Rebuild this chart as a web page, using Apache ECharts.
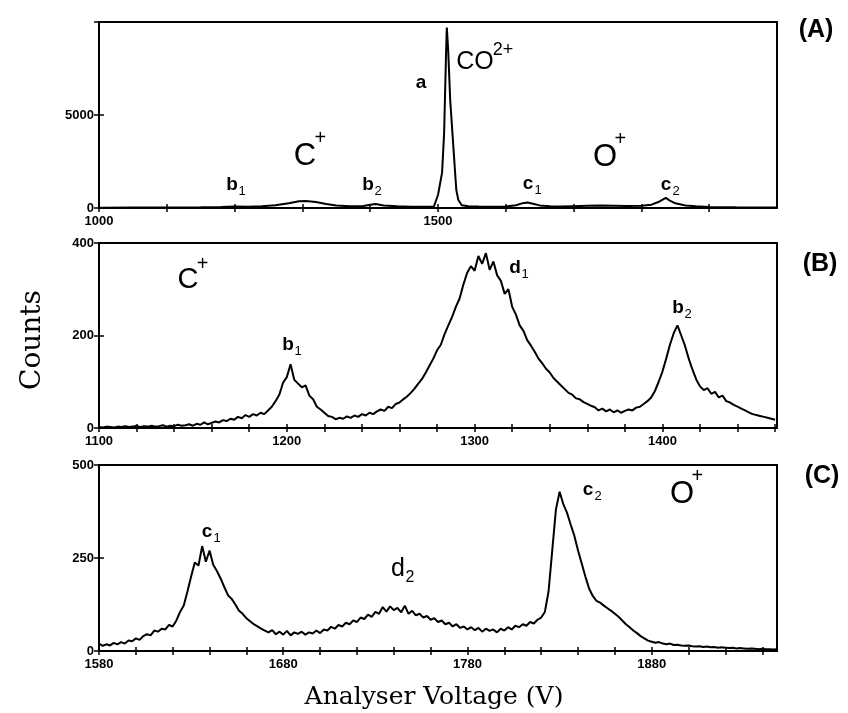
<!DOCTYPE html>
<html>
<head>
<meta charset="utf-8">
<title>CO spectra</title>
<script src="https://cdn.jsdelivr.net/npm/echarts@6/dist/echarts.min.js"></script>
<style>
  html, body { margin: 0; padding: 0; background: #fff; }
  #chart { width: 848px; height: 713px; }
</style>
</head>
<body>
<div id="chart"></div>
<script>
// (A) full scan, 1000-2000 V (sampled where the trace bends)
var aVolt = [1000,1050,1100,1150,1180,1200,1220,1240,1260,1280,
             1295,1305,1320,1335,1350,1370,1390,1400,1408,1420,
             1440,1460,1480,1494,1500,1504,1506,1509,1512,1513,
             1515,1518,1523,1527,1530,1535,1545,1560,1580,1600,
             1615,1625,1632,1640,1650,1665,1680,1700,1720,1740,
             1760,1780,1800,1815,1825,1832,1836,1842,1850,1865,
             1880,1900,1940,2000];
var aCounts = [20,25,30,40,60,80,70,90,150,260,
               360,380,320,220,140,100,110,180,220,140,
               90,70,70,80,700,1500,1900,4000,8500,9700,
               8500,5800,3100,970,430,150,100,80,70,80,
               150,260,300,230,140,90,80,100,120,130,
               120,110,120,180,320,460,540,400,250,140,
               90,60,40,30];

// (B) C+ region, 1100-1460 V, every 2 V
var bStart = 1100, bStep = 2;
var bCounts = [
  2,1,3,2,1,3,2,4,2,3,            // 1100
  5,2,4,3,5,3,4,6,3,5,            // 1120
  4,7,5,6,8,5,9,7,12,8,           // 1140
  11,14,12,17,15,20,18,24,21,28,  // 1160
  24,30,27,33,30,38,46,58,72,98,  // 1180
  110,138,104,96,88,92,70,62,46,40,   // 1200
  33,26,24,19,22,20,25,22,27,24,      // 1220
  30,27,33,30,36,40,37,46,43,52,      // 1240
  55,62,68,76,85,96,106,120,135,150,  // 1260
  168,180,203,222,240,262,280,310,335,350, // 1280
  340,372,355,378,342,360,330,318,290,300, // 1300
  262,245,222,210,190,178,165,150,140,128, // 1320
  120,108,100,92,84,76,72,64,62,56,   // 1340
  52,48,45,38,42,36,40,34,38,33,      // 1360
  37,40,38,44,46,52,58,66,80,100,     // 1380
  122,150,180,205,222,200,178,150,126,105, // 1400
  90,82,86,74,78,66,70,58,55,50,      // 1420
  46,42,38,34,30,28,26,24,22,20,      // 1440
  18                                  // 1460
];

// (C) O+ region, 1580-1948 V, every 2 V
var cStart = 1580, cStep = 2;
var cCounts = [
  20,14,18,15,22,18,24,20,28,26,      // 1580
  34,30,40,45,42,55,52,60,58,70,      // 1600
  66,82,105,122,160,200,238,230,282,240, // 1620
  270,232,215,195,172,150,140,125,108,100, // 1640
  88,80,72,66,60,55,50,56,45,52,      // 1660
  44,54,42,50,46,52,44,50,47,55,      // 1680
  48,58,55,65,60,70,66,76,72,82,      // 1700
  78,90,86,98,92,105,100,118,106,120, // 1720
  110,116,104,122,100,108,96,100,90,94, // 1740
  84,88,78,82,72,76,66,72,62,66,      // 1760
  58,64,56,62,52,60,54,58,50,60,      // 1780
  55,64,58,68,64,72,68,78,74,84,      // 1800
  90,105,160,270,380,428,395,372,340,310, // 1820
  270,235,200,168,148,135,130,122,115,108, // 1840
  100,92,82,72,64,55,48,40,34,28,     // 1860
  25,22,24,20,18,20,16,17,15,14,      // 1880
  15,13,12,13,11,12,10,11,9,10,       // 1900
  9,8,9,7,8,7,6,7,6,5,                // 1920
  6,5,5,4,5                           // 1940
];

function pairs(xs, ys) {
  return ys.map(function (y, i) { return [xs[i], y]; });
}
function stepped(start, step, ys) {
  return ys.map(function (y, i) { return [start + step * i, y]; });
}

var tickFont = { color: '#000', fontFamily: 'Liberation Sans', fontWeight: 'bold', fontSize: 13 };

// ticks cross the axis line: one axis with outside ticks, a twin with inside ticks
function xAxes(grid, min, max, interval, labelEvery) {
  var main = {
    type: 'value', gridIndex: grid, position: 'bottom', min: min, max: max, interval: interval,
    axisLine: { show: true, onZero: false, lineStyle: { color: '#000', width: 2 } },
    axisTick: { show: true, inside: false, length: 4, lineStyle: { color: '#000', width: 1.5 } },
    axisLabel: Object.assign({ margin: 7, showMaxLabel: false,
      formatter: function (v) { return (v - min) % labelEvery === 0 ? String(v) : ''; } }, tickFont),
    splitLine: { show: false }
  };
  var inner = {
    type: 'value', gridIndex: grid, position: 'bottom', offset: 0, min: min, max: max, interval: interval,
    axisLine: { show: false, onZero: false },
    axisTick: { show: true, inside: true, length: 4, lineStyle: { color: '#000', width: 1.5 } },
    axisLabel: { show: false }, splitLine: { show: false }
  };
  return [main, inner];
}

function yAxes(grid, max, interval, hideTop) {
  var main = {
    type: 'value', gridIndex: grid, position: 'left', min: 0, max: max, interval: interval,
    axisLine: { show: true, onZero: false, lineStyle: { color: '#000', width: 2 } },
    axisTick: { show: true, inside: false, length: 5, lineStyle: { color: '#000', width: 1.5 } },
    axisLabel: Object.assign({ margin: 5,
      formatter: function (v) { return (hideTop && v === max) ? '' : String(v); } }, tickFont),
    splitLine: { show: false }
  };
  var inner = {
    type: 'value', gridIndex: grid, position: 'left', offset: 0, min: 0, max: max, interval: interval,
    axisLine: { show: false, onZero: false },
    axisTick: { show: true, inside: true, length: 5, lineStyle: { color: '#000', width: 1.5 } },
    axisLabel: { show: false }, splitLine: { show: false }
  };
  return [main, inner];
}

// text helpers for peak labels
var sans = 'Liberation Sans';
function t(x, y, s, size, weight) {
  return { type: 'text', x: x, y: y, z: 10, style: {
    text: s, fill: '#000', align: 'center', verticalAlign: 'middle',
    font: (weight || 'normal') + ' ' + size + 'px "' + sans + '"' } };
}
function peak(x, y, letter, idx) {
  var out = [t(x, y, letter, 19, 'bold')];
  if (idx) out.push(t(x + 10, y + 6, idx, 13, 'normal'));
  return out;
}
function ion(x, y, main, sup, size) {
  var w = main.length * size * 0.33;
  return [t(x, y, main, size, 'normal'), t(x + w + 5, y - size * 0.55, sup, 20, 'normal')];
}

var graphics = [].concat(
  // (A)
  peak(232, 185, 'b', '1'), peak(368, 185, 'b', '2'), peak(528, 184, 'c', '1'),
  peak(666, 185, 'c', '2'), [t(421, 83, 'a', 19, 'bold')],
  ion(305, 156, 'C', '+', 31), ion(605, 157, 'O', '+', 31),
  [t(475, 62, 'CO', 25, 'normal'), t(503, 50, '2+', 18, 'normal')],
  [t(816, 30, '(A)', 25, 'bold')],
  // (B)
  ion(188, 280, 'C', '+', 29), peak(288, 345, 'b', '1'), peak(515, 268, 'd', '1'),
  peak(678, 308, 'b', '2'), [t(820, 264, '(B)', 25, 'bold')],
  // (C)
  peak(207, 532, 'c', '1'), ion(682, 494, 'O', '+', 31), peak(588, 490, 'c', '2'),
  [t(398, 569, 'd', 25, 'normal'), t(410, 578, '2', 16, 'normal')],
  [t(822, 476, '(C)', 25, 'bold')],
  // axis titles
  [{ type: 'text', x: 33, y: 340, rotation: Math.PI / 2, style: {
      text: 'Counts', fill: '#000', align: 'center', verticalAlign: 'middle',
      font: 'normal 28px "DejaVu Serif"' } },
   { type: 'text', x: 434, y: 697, style: {
      text: 'Analyser Voltage (V)', fill: '#000', align: 'center', verticalAlign: 'middle',
      font: 'normal 25px "DejaVu Serif"' } }]
);

var chart = echarts.init(document.getElementById('chart'));
chart.setOption({
  animation: false,
  backgroundColor: '#fff',
  grid: [
    { left: 99, right: 71, top: 22, height: 186, show: true, borderColor: '#000', borderWidth: 2 },
    { left: 99, right: 71, top: 243, height: 185, show: true, borderColor: '#000', borderWidth: 2 },
    { left: 99, right: 71, top: 465, height: 186, show: true, borderColor: '#000', borderWidth: 2 }
  ],
  xAxis: [].concat(
    xAxes(0, 1000, 2000, 100, 500),
    xAxes(1, 1100, 1461, 20, 100),
    xAxes(2, 1580, 1948, 20, 100)
  ),
  yAxis: [].concat(
    yAxes(0, 10000, 5000, true),
    yAxes(1, 400, 200, false),
    yAxes(2, 500, 250, false)
  ),
  series: [
    { type: 'line', xAxisIndex: 0, yAxisIndex: 0, data: pairs(aVolt, aCounts),
      showSymbol: false, lineStyle: { color: '#000', width: 2 } },
    { type: 'line', xAxisIndex: 2, yAxisIndex: 2, data: stepped(bStart, bStep, bCounts),
      showSymbol: false, lineStyle: { color: '#000', width: 2 } },
    { type: 'line', xAxisIndex: 4, yAxisIndex: 4, data: stepped(cStart, cStep, cCounts),
      showSymbol: false, lineStyle: { color: '#000', width: 2 } }
  ],
  graphic: graphics
});
</script>
</body>
</html>
